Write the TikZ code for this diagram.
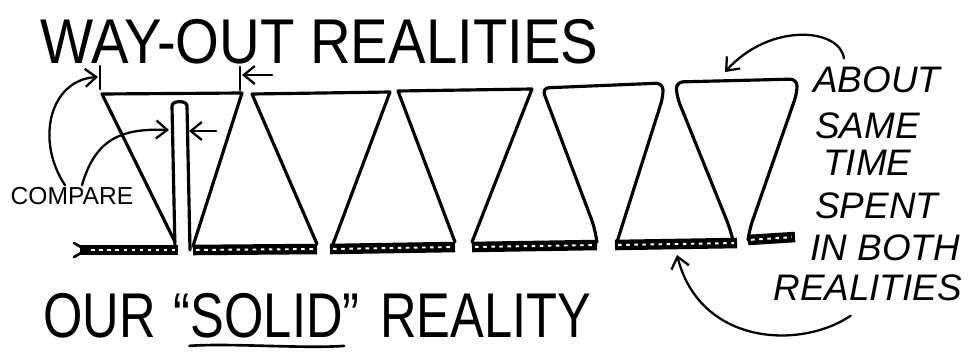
\documentclass[tikz,border=0pt]{standalone}
\usepackage{fontspec}
\setmainfont{Liberation Sans}
\usetikzlibrary{arrows.meta,positioning}

\begin{document}
\begin{tikzpicture}[
    x=0.02cm, y=-0.02cm,
    line/.style={draw, line width=1.8pt, line cap=round, line join=round},
    arrow/.style={line width=1.3pt, line cap=round,
                  -{Straight Barb[length=2.2mm, width=3.6mm, line width=1.3pt]}},
    solidbar/.style={line width=6pt, line cap=butt,
                  postaction={draw, white, line width=1.1pt, dash pattern=on 2pt off 2.6pt,
                              shorten <=1.8pt, shorten >=1.8pt}},
    big/.style={font=\fontsize{36}{40}\selectfont, inner sep=0pt, anchor=base west},
    side/.style={font=\fontsize{21}{24}\selectfont\itshape, inner sep=0pt, anchor=base west},
    small/.style={font=\fontsize{14}{16}\selectfont, inner sep=1pt}
]
\useasboundingbox (0,0) rectangle (973,352);

% Labels
\node[big] (wayout) at (40,63) {\scalebox{0.89}[1]{WAY-OUT REALITIES}};
\node[big] (our) at (43,337) {\scalebox{0.8}[1]{OUR}};
\node[big, base right=0.35cm of our] (solidword) {\scalebox{0.8}[1]{``SOLID''}};
\node[big, base right=0.4cm of solidword] (reality) {\scalebox{0.8}[1]{REALITY}};
\node[small] (compare) at (72,196) {COMPARE};

\node[side] (about) at (813,92) {ABOUT};
\node[side] (same) at (815,138) {SAME};
\node[side] (time) at (823,175) {TIME};
\node[side] (spent) at (815,218) {SPENT};
\node[side] (inboth) at (810,260) {IN BOTH};
\node[side] (realities) at (773,300) {REALITIES};

% Way-out realities (tops) and the narrow excursion
\draw[line] (175,242) -- (102,94) -- (242,93) -- (193,246);
\draw[line] (175,250) -- (172,106) to[out=90, in=90] (187,106) -- (190,250);
\draw[line] (317,244) -- (252,94) -- (390,92) -- (333,244);
\draw[line] (455,242) -- (398,91) -- (532,89) -- (472,242);
\draw[line, rounded corners=4pt] (597,242) -- (594,226) -- (542,88) -- (663,83)
    -- (663,97) -- (617,242);
\draw[line, rounded corners=4pt] (733,240) -- (729,226) -- (677,97) -- (676,82)
    -- (797,79) -- (797,93) -- (750,228) -- (748,240);

% Our solid reality (bottoms)
\draw[solidbar] (80,250) -- (178,250);
\draw[solidbar] (193,250) -- (317,249);
\draw[solidbar] (330,249) -- (455,247);
\draw[solidbar] (472,247) -- (597,245);
\draw[solidbar] (615,245) -- (737,243);
\draw[solidbar] (748,240) -- (795,237);
\draw[line, line width=1.5pt] (74,243) -- (86,250) -- (74,257);

% Width markers
\draw[line, line width=1.5pt] (100,66) -- (100,89);
\draw[line, line width=1.5pt] (240,67) -- (240,90);
\coordinate (wideL) at (98,77);
\coordinate (wideR) at (242,75);
\coordinate (wideRtail) at (272,75);
\coordinate (narrowL) at (169,130);
\coordinate (narrowR) at (189,131);
\coordinate (narrowRtail) at (216,131);
\coordinate (topE) at (725,72);
\coordinate (barFour) at (677,255);

% Arrows
\draw[arrow] ([xshift=-0.14cm]compare.north) .. controls (35,140) and (50,80) .. (wideL);
\draw[arrow] ([xshift=0.2cm]compare.north) .. controls (95,140) and (120,128) .. (narrowL);
\draw[arrow] (wideRtail) -- (wideR);
\draw[arrow] (narrowRtail) -- (narrowR);
\draw[arrow] ([xshift=-0.66cm, yshift=0.15cm]about.north) .. controls (840,28) and (770,22) .. (topE);
\draw[arrow] ([xshift=-0.34cm, yshift=-0.3cm]realities.south) .. controls (800,350) and (700,345) .. (barFour);

% Underline of SOLID
\draw[line, line width=1.5pt] ([xshift=9pt, yshift=-4.5pt]solidword.south west)
    .. controls +(40,-3) and +(-40,3) .. ([xshift=-9pt, yshift=-4.5pt]solidword.south east);
\draw[line, line width=1.5pt] ([xshift=9pt, yshift=-10pt]solidword.south west)
    -- ([xshift=-9pt, yshift=-10pt]solidword.south east);

\end{tikzpicture}
\end{document}
